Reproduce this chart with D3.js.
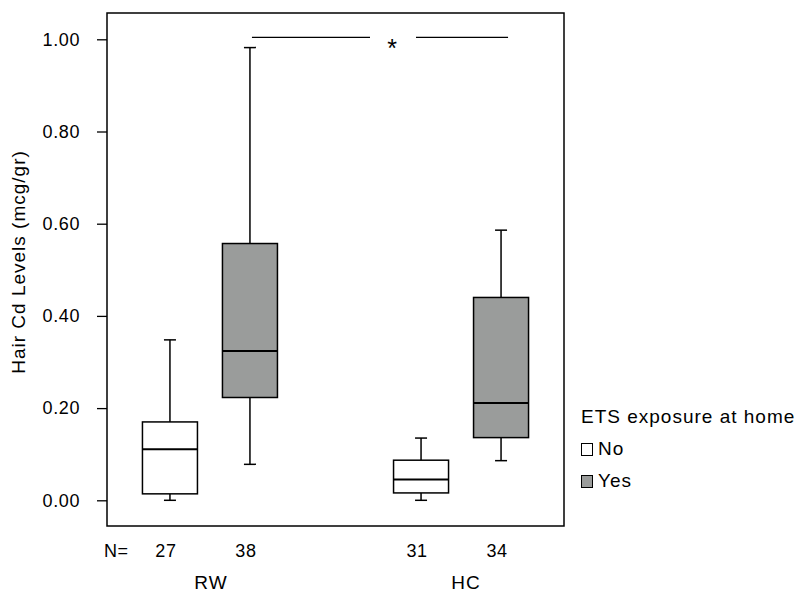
<!DOCTYPE html>
<html>
<head>
<meta charset="utf-8">
<script src="https://cdn.jsdelivr.net/npm/d3@7"></script>
<style>
  body { margin: 0; background: #fff; }
  text { font-family: "Liberation Sans", Arial, Helvetica, sans-serif; fill: #000; }
</style>
</head>
<body>
<div id="chart"></div>
<script>
// data
var groups = ["RW", "HC"];
var exposures = ["No", "Yes"];
var sampleN = [27, 38, 31, 34];
var whiskerLow = [0.000, 0.078, 0.000, 0.086];
var q1 = [0.014, 0.223, 0.016, 0.136];
var medians = [0.111, 0.324, 0.045, 0.211];
var q3 = [0.170, 0.557, 0.087, 0.440];
var whiskerHigh = [0.348, 0.982, 0.135, 0.586];
var yTicks = [0, 0.2, 0.4, 0.6, 0.8, 1.0];
var sigLevel = 1.004;

var width = 798, height = 594;
var frameL = 107, frameR = 564, frameT = 13, frameB = 526;
var boxColors = {"No": "#ffffff", "Yes": "#9a9c9b"};

var boxes = [];
for (var i = 0; i < sampleN.length; i++) {
    boxes.push({
        group: groups[Math.floor(i / 2)],
        exposure: exposures[i % 2],
        n: sampleN[i],
        lo: whiskerLow[i], q1: q1[i], med: medians[i], q3: q3[i], hi: whiskerHigh[i]
    });
}

var svg = d3.select("#chart").append("svg")
    .attr("width", width)
    .attr("height", height);

var x0 = d3.scalePoint().domain(groups).range([frameL, frameR]).padding(0.41);
var x1 = d3.scalePoint().domain(exposures).range([-40, 40]);
var y = d3.scaleLinear().domain([0, 1]).range([500.3, 39.3]);

var boxW = 55, capW = 12;
function cx(d) { return x0(d.group) + x1(d.exposure); }

// frame
svg.append("rect")
    .attr("x", frameL).attr("y", frameT)
    .attr("width", frameR - frameL).attr("height", frameB - frameT)
    .attr("fill", "none").attr("stroke", "#000").attr("stroke-width", 1.5);

// y axis ticks
var yAxis = d3.axisLeft(y).tickValues(yTicks).tickFormat(d3.format(".2f")).tickSize(10).tickPadding(17);
var ya = svg.append("g").attr("transform", "translate(" + frameL + ",0)").call(yAxis);
ya.select(".domain").remove();
ya.selectAll("line").attr("stroke", "#000").attr("stroke-width", 1.3);
ya.selectAll("text")
    .style("font-size", "18px")
    .style("letter-spacing", "0.6px")
    .style("font-family", "Liberation Sans, Arial, sans-serif");

svg.append("text")
    .attr("transform", "translate(25," + 262 + ") rotate(-90)")
    .attr("text-anchor", "middle")
    .style("font-size", "19px")
    .style("letter-spacing", "1px")
    .text("Hair Cd Levels (mcg/gr)");

// boxes
var bx = svg.append("g").selectAll("g").data(boxes).enter().append("g");

bx.append("line")
    .attr("x1", cx).attr("x2", cx)
    .attr("y1", function(d) { return y(d.hi); })
    .attr("y2", function(d) { return y(d.q3); })
    .attr("stroke", "#000").attr("stroke-width", 1.5);
bx.append("line")
    .attr("x1", cx).attr("x2", cx)
    .attr("y1", function(d) { return y(d.q1); })
    .attr("y2", function(d) { return y(d.lo); })
    .attr("stroke", "#000").attr("stroke-width", 1.5);
bx.append("line")
    .attr("x1", function(d) { return cx(d) - capW / 2; })
    .attr("x2", function(d) { return cx(d) + capW / 2; })
    .attr("y1", function(d) { return y(d.hi); })
    .attr("y2", function(d) { return y(d.hi); })
    .attr("stroke", "#000").attr("stroke-width", 1.5);
bx.append("line")
    .attr("x1", function(d) { return cx(d) - capW / 2; })
    .attr("x2", function(d) { return cx(d) + capW / 2; })
    .attr("y1", function(d) { return y(d.lo); })
    .attr("y2", function(d) { return y(d.lo); })
    .attr("stroke", "#000").attr("stroke-width", 1.5);
bx.append("rect")
    .attr("x", function(d) { return cx(d) - boxW / 2; })
    .attr("y", function(d) { return y(d.q3); })
    .attr("width", boxW)
    .attr("height", function(d) { return y(d.q1) - y(d.q3); })
    .attr("fill", function(d) { return boxColors[d.exposure]; })
    .attr("stroke", "#000").attr("stroke-width", 1.5);
bx.append("line")
    .attr("x1", function(d) { return cx(d) - boxW / 2; })
    .attr("x2", function(d) { return cx(d) + boxW / 2; })
    .attr("y1", function(d) { return y(d.med); })
    .attr("y2", function(d) { return y(d.med); })
    .attr("stroke", "#000").attr("stroke-width", 2);

// significance bracket between the two "Yes" boxes
var sx1 = cx(boxes[1]) + 2, sx2 = cx(boxes[3]) + 7;
var sMid = (sx1 + sx2) / 2 + 12;
svg.append("line")
    .attr("x1", sx1).attr("x2", sMid - 22)
    .attr("y1", y(sigLevel)).attr("y2", y(sigLevel))
    .attr("stroke", "#000").attr("stroke-width", 1.3);
svg.append("line")
    .attr("x1", sMid + 24).attr("x2", sx2)
    .attr("y1", y(sigLevel)).attr("y2", y(sigLevel))
    .attr("stroke", "#000").attr("stroke-width", 1.3);
svg.append("text")
    .attr("x", sMid).attr("y", y(sigLevel) + 20)
    .attr("text-anchor", "middle")
    .style("font-size", "25px")
    .text("*");

// N labels
svg.append("text").attr("x", 104).attr("y", 557)
    .style("font-size", "18px").style("letter-spacing", "0.5px").text("N=");
svg.selectAll(".nlab").data(boxes).enter().append("text")
    .attr("class", "nlab")
    .attr("x", function(d) { return cx(d) - 4; })
    .attr("y", 557)
    .attr("text-anchor", "middle")
    .style("font-size", "18px")
    .style("letter-spacing", "0.6px")
    .text(function(d) { return d.n; });

// group labels
svg.selectAll(".glab").data(groups).enter().append("text")
    .attr("class", "glab")
    .attr("x", function(d, i) { return x0(d) + (i === 0 ? 1 : 5); })
    .attr("y", 589)
    .attr("text-anchor", "middle")
    .style("font-size", "19px")
    .style("letter-spacing", "1px")
    .text(function(d) { return d; });

// legend
var lg = svg.append("g").attr("transform", "translate(581,0)");
lg.append("text").attr("x", 0).attr("y", 423)
    .style("font-size", "19px").style("letter-spacing", "1px")
    .text("ETS exposure at home");
var li = lg.selectAll(".li").data(exposures).enter().append("g")
    .attr("transform", function(d, i) { return "translate(0," + (443 + i * 32) + ")"; });
li.append("rect")
    .attr("x", 0.5).attr("y", 0.5).attr("width", 11).attr("height", 12)
    .attr("fill", function(d) { return boxColors[d]; })
    .attr("stroke", "#000").attr("stroke-width", 1);
li.append("text")
    .attr("x", 17).attr("y", 12)
    .style("font-size", "19px")
    .style("letter-spacing", "1px")
    .text(function(d) { return d; });
</script>
</body>
</html>
